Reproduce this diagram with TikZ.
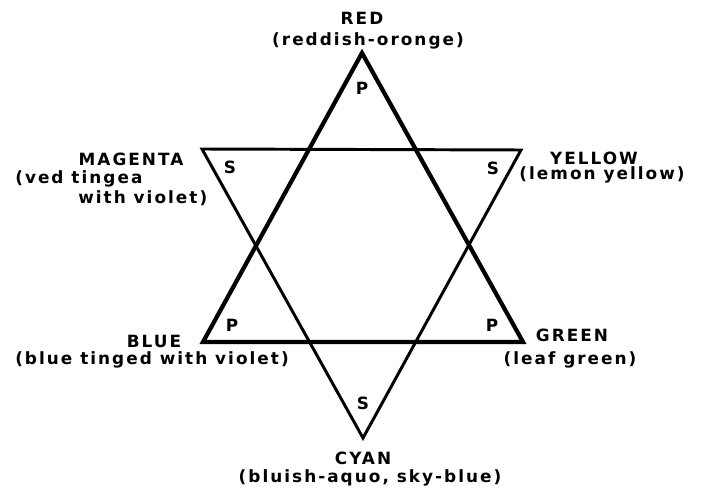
\documentclass[tikz,border=0pt]{standalone}
\usepackage{fontspec}
\newfontfamily\leroy[LetterSpace=12]{DejaVu Sans}
\usetikzlibrary{positioning}

\begin{document}
\begin{tikzpicture}[
  x=0.025cm, y=-0.025cm,
  primary/.style={line width=3pt, line join=miter},
  secondary/.style={line width=2.1pt, line join=miter},
  huename/.style={font=\leroy\bfseries\fontsize{12}{14}\selectfont, inner sep=0pt},
  huedesc/.style={font=\leroy\bfseries\fontsize{12}{14}\selectfont, inner sep=0pt},
  cornerlbl/.style={font=\leroy\bfseries\fontsize{12}{14}\selectfont, inner sep=0pt},
]
\useasboundingbox (0,0) rectangle (701,497);

% Primaries (triangle pointing up)
\coordinate (red) at (362,53);
\coordinate (blue) at (203,342);
\coordinate (green) at (523,342);

% Secondaries (triangle pointing down)
\coordinate (magenta) at (202,149);
\coordinate (yellow) at (521,150);
\coordinate (cyan) at (363,438);

\draw[primary] (red) -- (green) -- (blue) -- cycle;
\draw[secondary] (magenta) -- (yellow) -- (cyan) -- cycle;

% Corner letters
\node[cornerlbl] (pred) at (362,88) {P};
\node[cornerlbl] (pblue) at (232,325) {P};
\node[cornerlbl] (pgreen) at (492,325) {P};
\node[cornerlbl] (smag) at (230,167) {S};
\node[cornerlbl] (syel) at (493,168) {S};
\node[cornerlbl] (scyan) at (363,403) {S};

% Hue names
\node[huename] (nred) at (362,18) {RED};
\node[huedesc] (dred) at (368,41) {(reddish-oronge)};

\node[huename] (nmag) at (131,159) {MAGENTA};
\node[huedesc, anchor=west] (dmag1) at (15,179) {(ved tingea};
\node[huedesc, anchor=west] (dmag2) at (78,198) {with violet)};

\node[huename] (nyel) at (594,158) {YELLOW};
\node[huedesc] (dyel) at (602,175) {(lemon yellow)};

\node[huename] (nblue) at (154,341) {BLUE};
\node[huedesc] (dblue) at (152,360) {(blue tinged with violet)};

\node[huename] (ngreen) at (572,335) {GREEN};
\node[huedesc] (dgreen) at (570,360) {(leaf green)};

\node[huename] (ncyan) at (363,458) {CYAN};
\node[huedesc] (dcyan) at (370,478) {(bluish-aquo, sky-blue)};

\end{tikzpicture}
\end{document}
